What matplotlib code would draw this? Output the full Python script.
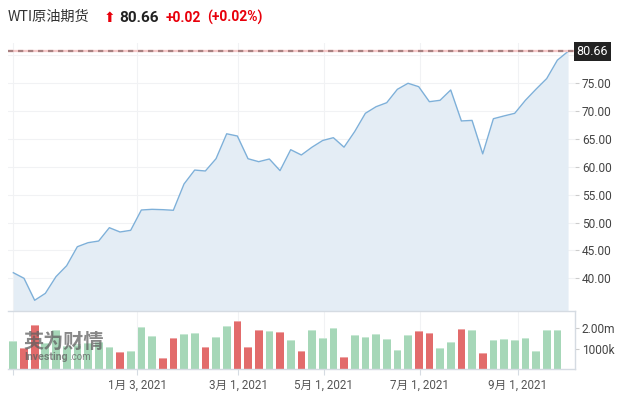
import matplotlib
matplotlib.use("Agg")
import matplotlib.pyplot as plt
import matplotlib.transforms as mtransforms
import numpy as np

plt.rcParams['font.family'] = ['Roboto', 'Noto Sans CJK SC', 'DejaVu Sans']
plt.rcParams['lines.scale_dashes'] = False

# ---------------- data ----------------
title_name = "WTI原油期货"
last_price = 80.66
change_txt = "+0.02"
change_pct_txt = "(+0.02%)"

# weekly closes (last point = live price)
prices = [41.0, 40.0, 36.06, 37.3, 40.3, 42.26, 45.66, 46.38, 46.68, 49.07,
          48.3, 48.6, 52.24, 52.36, 52.3, 52.19, 56.9, 59.4, 59.23, 61.43,
          65.9, 65.5, 61.43, 60.9, 61.38, 59.3, 63.05, 62.1, 63.5, 64.7,
          65.2, 63.5, 66.3, 69.57, 70.75, 71.47, 73.87, 74.95, 74.34, 71.65,
          71.9, 73.75, 68.2, 68.3, 62.3, 68.6, 69.1, 69.57, 71.9, 73.9,
          75.8, 79.1, 80.66]

# weekly volume, in millions
volumes = [1.37, 1.03, 2.15, 1.25, 1.91, 1.15, 1.2, 1.25, 1.3, 1.07,
           0.81, 0.88, 2.04, 1.6, 0.52, 1.5, 1.7, 1.74, 1.07, 1.58,
           2.09, 2.33, 1.07, 1.89, 1.84, 1.79, 1.4, 0.86, 1.9, 1.51,
           1.99, 0.58, 1.65, 1.55, 1.7, 1.46, 0.92, 1.65, 1.86, 1.76,
           1.03, 1.32, 1.96, 1.91, 0.78, 1.42, 1.47, 1.42, 1.52, 0.88,
           1.91, 1.91]

date_labels = ["", "1月 3, 2021", "3月 1, 2021", "5月 1, 2021", "7月 1, 2021", "9月 1, 2021"]
price_ticks = [40, 45, 50, 55, 60, 65, 70, 75]
vol_ticks = [1.0, 2.0]
vol_tick_labels = ["1000k", "2.00m"]

# ---------------- layout constants ----------------
W, H = 627, 394
tick_pos = [0, 11.6, 21.1, 29.1, 38.1, 47.3]
xlim = (-0.5, 52.65)

fig = plt.figure(figsize=(W / 100, H / 100), dpi=100)
fig.patch.set_facecolor('white')

def fx(px):
    return px / W

def fy(py):
    return 1 - py / H

ax_left, ax_right = 8, 575
axp = fig.add_axes([fx(ax_left), fy(311), fx(ax_right - ax_left), (311 - 43) / H])
axv = fig.add_axes([fx(ax_left), fy(369), fx(ax_right - ax_left), (369 - 311) / H])

# ---------------- price panel ----------------
xp = np.arange(len(prices))
pmin, pmax = 34.14, 82.17
axp.fill_between(xp, prices, pmin, color='#e4edf5', lw=0, zorder=1)
axp.plot(xp, prices, color='#7eb0d9', lw=1.0, zorder=3)
axp.set_xlim(*xlim)
axp.set_ylim(pmin, pmax)

grid_c = '#f1f2f4'
for t in tick_pos:
    axp.axvline(t, color=grid_c, lw=0.8, zorder=0.5)
for v in price_ticks + [80]:
    axp.axhline(v, color=grid_c, lw=0.8, zorder=0.5)

axp.axhline(last_price, color='#f6c8c8', lw=1.6, zorder=4)
axp.axhline(last_price, color='#a88080', lw=1.6, dashes=(3.8, 3.4), zorder=5)

for s in axp.spines.values():
    s.set_visible(False)
axp.set_xticks([])
axp.yaxis.tick_right()
axp.set_yticks(price_ticks)
axp.set_yticklabels([f"{v:.2f}" for v in price_ticks])
axp.tick_params(axis='y', length=3, width=0.8, color='#cccccc', pad=2,
                labelsize=8.6, labelcolor='#444444')

trans = mtransforms.blended_transform_factory(axp.transAxes, axp.transData)
axp.text(1.003, last_price, f"{last_price:.2f}", transform=trans, ha='left', va='center',
         color='white', fontsize=9,
         bbox=dict(boxstyle='square,pad=0.22', facecolor='#222222', edgecolor='none'),
         zorder=10, clip_on=False)

# ---------------- volume panel ----------------
xv = np.arange(len(volumes))
green, green_cap = '#a6d7b8', '#c8e8d4'
red, red_cap = '#e26b6b', '#eea5a5'
colors, caps = [], []
for i in range(len(volumes)):
    down = i > 0 and prices[i] < prices[i - 1]
    colors.append(red if down else green)
    caps.append(red_cap if down else green_cap)

vol = np.array(volumes)
cap_h = 0.05
axv.bar(xv, vol, width=0.72, color=colors, lw=0, zorder=2)
axv.bar(xv, cap_h, bottom=vol - cap_h, width=0.72, color=caps, lw=0, zorder=3)
axv.set_xlim(*xlim)
axv.set_ylim(0, 2.84)
for t in tick_pos:
    axv.axvline(t, color=grid_c, lw=0.8, zorder=0.5)

axv.spines['left'].set_visible(False)
for side in ['top', 'right', 'bottom']:
    axv.spines[side].set_color('#d5dbe2')
    axv.spines[side].set_linewidth(1.0)

axv.yaxis.tick_right()
axv.set_yticks(vol_ticks)
axv.set_yticklabels(vol_tick_labels)
axv.tick_params(axis='y', length=3, width=0.8, color='#cccccc', pad=2,
                labelsize=8.6, labelcolor='#444444')
axv.set_xticks(tick_pos)
axv.set_xticklabels(date_labels)
axv.tick_params(axis='x', length=4, width=0.8, color='#d5dbe2', pad=3,
                labelsize=8.4, labelcolor='#555555')

# watermark
fig.text(fx(23), fy(341), "英为财情", fontsize=14.5, fontweight='bold', color='#606060',
         alpha=0.75, ha='left', va='center', family=['Noto Sans CJK SC', 'DejaVu Sans'])
fig.text(fx(24), fy(357), "Investing", fontsize=7.6, fontweight='bold', color='#606060',
         alpha=0.75, ha='left', va='center')
fig.text(fx(69), fy(357.5), ".com", fontsize=7.0, color='#606060',
         alpha=0.75, ha='left', va='center')

# ---------------- header ----------------
fig.text(fx(8), fy(17), title_name, fontsize=10.2, color='#333333', ha='left', va='center',
         family=['Noto Sans CJK SC', 'DejaVu Sans'])
fig.text(fx(104), fy(18), "⬆", fontsize=10, color='#e8000b', ha='left', va='center',
         family=['DejaVu Sans'])
fig.text(fx(119), fy(17.5), f"{last_price:.2f}", fontsize=11, fontweight='bold',
         color='#222222', ha='left', va='center')
fig.text(fx(166), fy(17.5), change_txt, fontsize=10, fontweight='bold', color='#e8000b',
         ha='left', va='center')
fig.text(fx(207), fy(17.5), change_pct_txt, fontsize=10, fontweight='bold', color='#e8000b',
         ha='left', va='center')

fig.savefig("out.png", dpi=100, facecolor='white')
